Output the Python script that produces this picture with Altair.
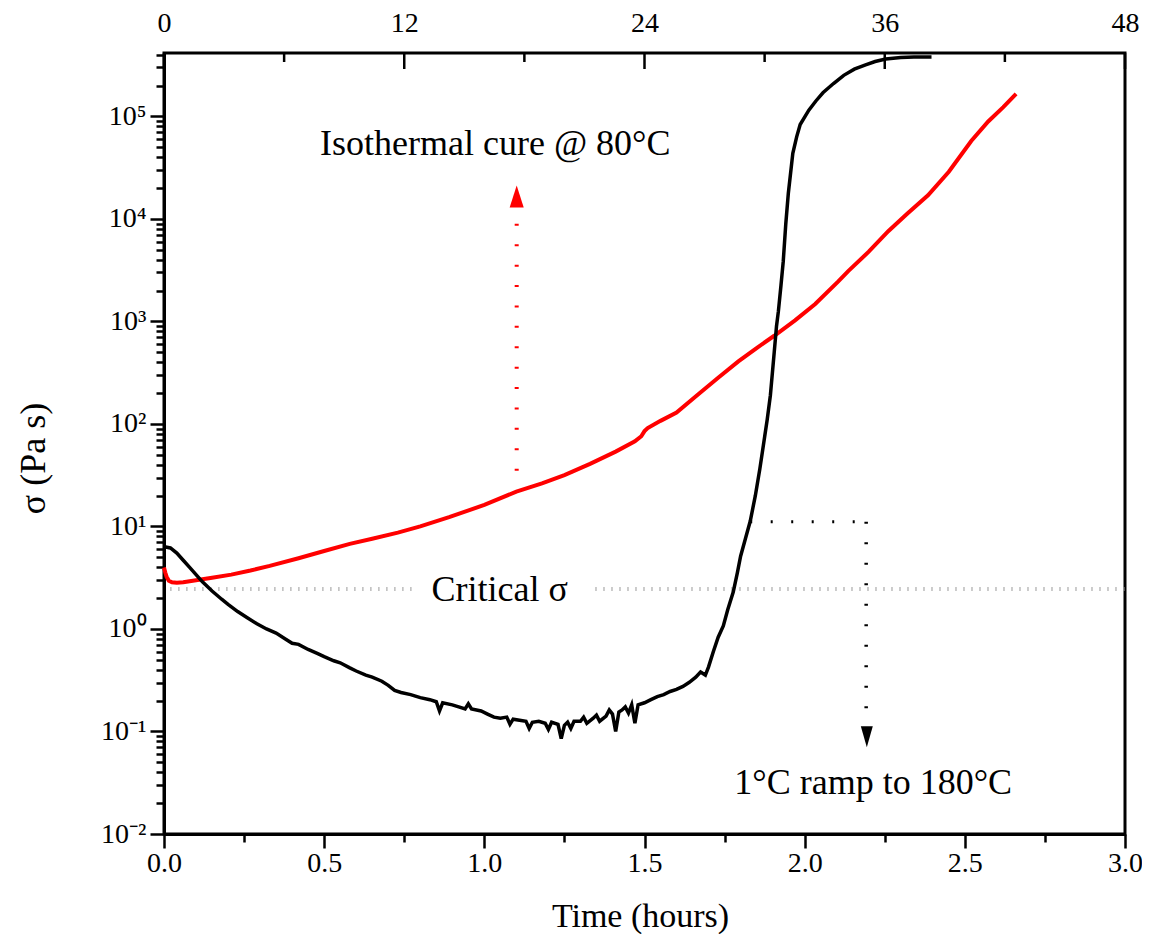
import altair as alt
import pandas as pd
import numpy as np

# ---------------- data ----------------
# black curve: time (hours) and log10(sigma / Pa s)
black_t = [0.005, 0.02, 0.04, 0.06, 0.08, 0.10, 0.12, 0.15, 0.18, 0.20, 0.23, 0.26, 0.29, 0.32, 0.35,
           0.38, 0.40, 0.42, 0.45, 0.48, 0.50, 0.53, 0.55, 0.58, 0.60, 0.63, 0.65, 0.68, 0.70, 0.72,
           0.74, 0.77, 0.80, 0.83, 0.85, 0.86, 0.87, 0.90, 0.92, 0.94, 0.95, 0.96, 0.99, 1.01, 1.03,
           1.05, 1.07, 1.08, 1.09, 1.11, 1.13, 1.14, 1.15, 1.17, 1.19, 1.20, 1.21, 1.23, 1.24, 1.25,
           1.26, 1.27, 1.28, 1.30, 1.31, 1.32, 1.34, 1.35, 1.36, 1.38, 1.39, 1.40, 1.41, 1.42, 1.43,
           1.44, 1.45, 1.46, 1.47, 1.48, 1.50, 1.52, 1.54, 1.56, 1.58, 1.60, 1.62, 1.64, 1.66, 1.675,
           1.69, 1.70, 1.715, 1.73, 1.746, 1.76, 1.777, 1.79, 1.80, 1.815, 1.83, 1.846, 1.86, 1.871,
           1.883, 1.893, 1.905, 1.912, 1.918, 1.926, 1.933, 1.941, 1.949, 1.963, 1.975, 1.986, 2.013,
           2.035, 2.057, 2.09, 2.122, 2.155, 2.188, 2.22, 2.253, 2.30, 2.341, 2.396]
black_log = [0.80, 0.79, 0.74, 0.67, 0.60, 0.53, 0.46, 0.37, 0.29, 0.24, 0.17, 0.11, 0.05, 0.00, -0.04,
             -0.10, -0.14, -0.15, -0.20, -0.24, -0.27, -0.31, -0.33, -0.38, -0.41, -0.45, -0.47, -0.51, -0.55, -0.60,
             -0.62, -0.64, -0.67, -0.69, -0.71, -0.80, -0.72, -0.74, -0.76, -0.78, -0.73, -0.78, -0.80, -0.83, -0.86,
             -0.87, -0.86, -0.93, -0.88, -0.89, -0.90, -0.97, -0.91, -0.90, -0.92, -0.98, -0.91, -0.93, -1.07, -0.94,
             -0.91, -0.97, -0.90, -0.90, -0.86, -0.92, -0.87, -0.84, -0.90, -0.85, -0.79, -0.83, -1.00, -0.81, -0.79,
             -0.76, -0.82, -0.74, -0.92, -0.74, -0.72, -0.69, -0.66, -0.64, -0.61, -0.59, -0.56, -0.52, -0.47, -0.42,
             -0.45, -0.37, -0.22, -0.08, 0.03, 0.19, 0.36, 0.55, 0.71, 0.88, 1.05, 1.30, 1.56, 1.79,
             2.04, 2.28, 2.70, 2.95, 3.10, 3.35, 3.58, 3.95, 4.25, 4.64, 4.80, 4.92, 5.06,
             5.15, 5.23, 5.32, 5.40, 5.46, 5.50, 5.535, 5.56, 5.575, 5.58, 5.58]

# red curve: time (hours) and log10(sigma / Pa s)
red_t = [0.0, 0.004, 0.008, 0.015, 0.025, 0.04, 0.06, 0.08, 0.11, 0.15, 0.21, 0.27, 0.33, 0.42, 0.50,
         0.58, 0.65, 0.73, 0.80, 0.89, 1.00, 1.10, 1.18, 1.25, 1.33, 1.41, 1.47, 1.49, 1.50, 1.51,
         1.55, 1.60, 1.668, 1.73, 1.793, 1.85, 1.905, 1.97, 2.033, 2.105, 2.136, 2.20, 2.261, 2.32,
         2.385, 2.45, 2.52, 2.573, 2.62, 2.66]
red_log = [0.60, 0.55, 0.51, 0.47, 0.455, 0.45, 0.455, 0.465, 0.48, 0.50, 0.53, 0.57, 0.615, 0.69, 0.76,
           0.83, 0.88, 0.94, 1.00, 1.09, 1.21, 1.34, 1.42, 1.50, 1.61, 1.73, 1.83, 1.88, 1.93, 1.96,
           2.03, 2.11, 2.29, 2.45, 2.61, 2.74, 2.86, 3.01, 3.17, 3.39, 3.49, 3.68, 3.88, 4.05,
           4.23, 4.46, 4.76, 4.95, 5.09, 5.22]

# axis ticks
x_major = [0.0, 0.5, 1.0, 1.5, 2.0, 2.5, 3.0]
x_minor = [0.25, 0.75, 1.25, 1.75, 2.25, 2.75]
top_major_h = [0.0, 0.75, 1.5, 2.25, 3.0]      # shows 0, 12, 24, 36, 48
top_minor_h = [0.375, 1.125, 1.875, 2.625]
y_major = [1e-2, 1e-1, 1e0, 1e1, 1e2, 1e3, 1e4, 1e5]
y_minor = [m * 10.0 ** k for k in range(-2, 6) for m in range(2, 10) if m * 10.0 ** k <= 4.15e5]

# critical sigma line (split around its label)
crit_x0 = [0.02, 1.347]
crit_x1 = [0.774, 3.0]
crit_y = [2.46, 2.46]

# annotation arrows
red_arrow_x = [1.101]
red_arrow_y0 = [35.0]
red_arrow_y1 = [11200.0]
red_head_y = [16500.0]
blk_h_x0 = [1.83]
blk_h_x1 = [2.192]
blk_h_y = [11.1]
blk_v_y1 = [0.158]
blk_head_x = [2.194]
blk_head_y = [0.089]

labels_text = ["Isothermal cure @ 80°C", "1°C ramp to 180°C", "Critical σ"]
labels_x = [1.034, 2.214, 1.048]
labels_y = [41600.0, 0.0245, 1.875]

# ---------------- tables ----------------
df_black = pd.DataFrame({"t": black_t, "s": np.power(10.0, black_log)})
df_black["i"] = range(len(df_black))
df_red = pd.DataFrame({"t": red_t, "s": np.power(10.0, red_log)})
df_red["i"] = range(len(df_red))
df_crit = pd.DataFrame({"x0": crit_x0, "x1": crit_x1, "y": crit_y})
df_top_major = pd.DataFrame({"t": top_major_h})
df_top_minor = pd.DataFrame({"t": top_minor_h})
df_red_arrow = pd.DataFrame({"x": red_arrow_x, "y0": red_arrow_y0, "y1": red_arrow_y1, "yh": red_head_y})
df_blk_h = pd.DataFrame({"x0": blk_h_x0, "x1": blk_h_x1, "y": blk_h_y})
df_blk_v = pd.DataFrame({"x": blk_h_x1, "y0": blk_h_y, "y1": blk_v_y1})
df_blk_head = pd.DataFrame({"x": blk_head_x, "y": blk_head_y})
df_labels = pd.DataFrame({"txt": labels_text, "x": labels_x, "y": labels_y})

XS = alt.Scale(domain=[0, 3], nice=False, zero=False)
YS = alt.Scale(type="log", domain=[0.01, 4.15e5], nice=False)
SERIF = "Liberation Serif"

def xn(field):
    return alt.X(field, scale=XS, axis=None)

def yn(field):
    return alt.Y(field, scale=YS, axis=None)

# critical line, carrying the minor-tick axes
crit = alt.Chart(df_crit).mark_rule(color="#9a9a9a", strokeWidth=4, strokeDash=[1, 7]).encode(
    x=alt.X("x0:Q", scale=XS, axis=alt.Axis(values=x_minor, labels=False, tickSize=8, domain=False,
                                             title=None, grid=False, orient="bottom")),
    x2="x1:Q",
    y=alt.Y("y:Q", scale=YS, axis=alt.Axis(values=y_minor, labels=False, tickSize=8, domain=False,
                                            title=None, grid=False, orient="left")),
)

red_line = alt.Chart(df_red).mark_line(color="#ff0000", strokeWidth=4).encode(
    x=xn("t:Q"), y=yn("s:Q"), order="i:Q"
)

black_line = alt.Chart(df_black).mark_line(color="black", strokeWidth=3.5).encode(
    x=alt.X("t:Q", scale=XS, axis=alt.Axis(
        values=x_major, format=".1f", tickSize=14, labelPadding=1, title="Time (hours)",
        titleX=476, titleY=92, titleBaseline="alphabetic", titleAnchor="start", titleAlign="center",
        titleFontSize=34, orient="bottom", grid=False)),
    y=alt.Y("s:Q", scale=YS, axis=alt.Axis(
        values=y_major, tickSize=14, labelPadding=4, title="σ (Pa s)",
        titleX=-120, titleY=405, titleAngle=-90, titleAlign="center", titleBaseline="alphabetic",
        orient="left", grid=False,
        labelExpr=("datum.value < 0.05 ? '10⁻²' : datum.value < 0.5 ? '10⁻¹' : datum.value < 5 ? '10⁰' : "
                   "datum.value < 50 ? '10¹' : datum.value < 500 ? '10²' : datum.value < 5000 ? '10³' : "
                   "datum.value < 50000 ? '10⁴' : '10⁵'"))),
    order="i:Q",
)

top_major = alt.Chart(df_top_major).mark_rule(color="black", strokeWidth=2.5).encode(
    x=alt.X("t:Q", scale=XS, axis=alt.Axis(orient="top", values=top_major_h, ticks=False, domain=False,
                                            labelPadding=16, title=None, grid=False,
                                            labelExpr="format(datum.value * 16, 'd')")),
    y=alt.value(0), y2=alt.value(16),
)
top_minor = alt.Chart(df_top_minor).mark_rule(color="black", strokeWidth=2.5).encode(
    x=xn("t:Q"), y=alt.value(0), y2=alt.value(9),
)

red_arrow = alt.Chart(df_red_arrow).mark_rule(color="#ff0000", strokeWidth=4, strokeDash=[2, 18.4]).encode(
    x=xn("x:Q"), y=yn("y0:Q"), y2="y1:Q"
)
red_head = alt.Chart(df_red_arrow).mark_point(
    shape="M0,-1L0.64,1L-0.64,1Z", size=484, filled=True, color="#ff0000", opacity=1
).encode(x=xn("x:Q"), y=yn("yh:Q"))

blk_h = alt.Chart(df_blk_h).mark_rule(color="black", strokeWidth=3, strokeDash=[2, 18.5]).encode(
    x=xn("x0:Q"), x2="x1:Q", y=yn("y:Q")
)
blk_v = alt.Chart(df_blk_v).mark_rule(color="black", strokeWidth=3.5, strokeDash=[2, 18.5]).encode(
    x=xn("x:Q"), y=yn("y0:Q"), y2="y1:Q"
)
blk_head = alt.Chart(df_blk_head).mark_point(
    shape="M0,1L0.57,-1L-0.57,-1Z", size=441, filled=True, color="black", opacity=1
).encode(x=xn("x:Q"), y=yn("y:Q"))

texts = alt.Chart(df_labels).mark_text(
    font=SERIF, fontSize=36, baseline="alphabetic", align="center", color="black"
).encode(x=xn("x:Q"), y=yn("y:Q"), text="txt:N")

chart = alt.layer(
    crit, red_line, black_line, top_major, top_minor, red_arrow, red_head, blk_h, blk_v, blk_head, texts
).resolve_axis(x="independent", y="independent").properties(
    width=961, height=781,
    autosize=alt.AutoSizeParams(type="none"),
    padding={"left": 156, "top": 45, "right": 17, "bottom": 100},
    background="white",
).configure_axis(
    labelFont=SERIF, labelFontSize=28, labelColor="black", labelFlush=False, labelOverlap=False,
    titleFont=SERIF, titleFontSize=36, titleColor="black", titleFontWeight="normal",
    tickColor="black", tickWidth=2.5, domainColor="black", domainWidth=3, grid=False,
).configure_view(stroke="black", strokeWidth=3)

chart.save("out.html", embed_options={"renderer": "svg", "actions": False})
